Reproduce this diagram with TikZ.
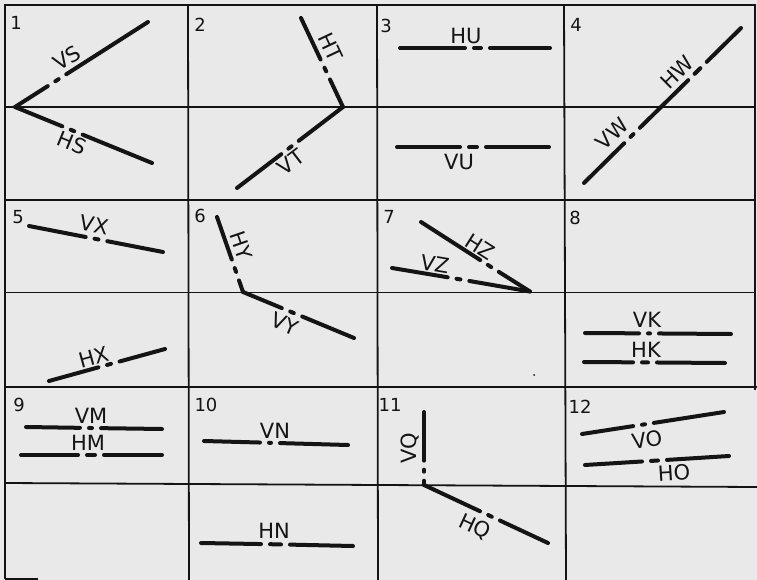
\documentclass[tikz,border=0pt]{standalone}
\usepackage{fontspec}
\setmainfont{DejaVu Sans}
\usetikzlibrary{calc}
\definecolor{bgc}{RGB}{233,233,233}
\definecolor{ink}{RGB}{20,20,20}
\tikzset{
  tline/.style={line width=4pt, line cap=round, draw=ink},
  gridline/.style={line width=1.8pt, draw=ink},
  lab/.style={inner sep=0pt, font=\fontsize{21}{21}\selectfont, text=ink},
  num/.style={inner sep=0pt, font=\fontsize{18}{18}\selectfont, text=ink},
}
% #1 half visible dash length, #2 start, #3 break centre, #4 end
\newcommand\tracebrk[4][4]{%
  \pgfmathsetmacro\tbd{#1-2}%
  \pgfmathsetmacro\tbs{#1+7}%
  \draw[tline] (#2) -- ($(#3)!\tbs pt!(#2)$);
  \draw[tline] ($(#3)!\tbd pt!(#2)$) -- ($(#3)!\tbd pt!(#4)$);
  \draw[tline] ($(#3)!\tbs pt!(#4)$) -- (#4);
}
\begin{document}
\begin{tikzpicture}[x=1pt,y=-1pt]
\fill[bgc] (0,0) rectangle (757,580);
\useasboundingbox (0,0) rectangle (757,580);

% grid
\draw[gridline] (5,579) -- (5,5) -- (755,5) -- (755,390);
\draw[gridline] (5,579) -- (38,579);
\draw[gridline] (188,5) -- (189,580);
\draw[gridline] (377,5) -- (378,580);
\draw[gridline] (564,5) -- (566,580);
\draw[gridline] (5,200) -- (755,200);
\draw[gridline] (5,387) -- (757,387);
\draw[gridline] (5,107) -- (755,107);
\draw[gridline] (5,292.5) -- (755,292.5);
\draw[gridline] (5,483) -- (757,487);

% cell 1
\node[num] (n1) at (16,22.5) {1};
\coordinate (f1) at (15,107);
\coordinate (vsE) at (148,22);  \coordinate (vsC) at (57,80.2);
\coordinate (hsE) at (152,163); \coordinate (hsC) at (72.5,130.5);
\tracebrk{f1}{vsC}{vsE}
\tracebrk{f1}{hsC}{hsE}
\node[lab,rotate=32.6] (lvs) at (67,58) {VS};
\node[lab,rotate=-22.2] (lhs) at (72,143) {HS};

% cell 2
\node[num] (n2) at (200,25) {2};
\coordinate (f2) at (343,107);
\coordinate (htE) at (301,18);  \coordinate (htC) at (325.3,69.5);
\coordinate (vtE) at (237,188); \coordinate (vtC) at (290,147.5);
\tracebrk{htE}{htC}{f2}
\tracebrk{f2}{vtC}{vtE}
\node[lab,rotate=-64.7] (lht) at (331,47) {HT};
\node[lab,rotate=37.4] (lvt) at (291,162) {VT};

% cell 3
\node[num] (n3) at (386,26) {3};
\coordinate (huA) at (400,48); \coordinate (huB) at (550,48); \coordinate (huC) at (477.5,48);
\coordinate (vuA) at (397,147); \coordinate (vuB) at (549,147); \coordinate (vuC) at (473,147);
\tracebrk[5.5]{huA}{huC}{huB}
\tracebrk[6]{vuA}{vuC}{vuB}
\node[lab] (lhu) at (466,36) {HU};
\node[lab] (lvu) at (459,162) {VU};

% cell 4
\node[num] (n4) at (576,25) {4};
\coordinate (wA) at (584,183); \coordinate (wF) at (661,107); \coordinate (wB) at (741,28);
\coordinate (hwC) at (697.5,71); \coordinate (vwC) at (632,135.5);
\tracebrk[4]{wA}{vwC}{wF}
\tracebrk[6]{wF}{hwC}{wB}
\node[lab,rotate=44.6] (lhw) at (677,72) {HW};
\node[lab,rotate=44.6] (lvw) at (612,134) {VW};

% cell 5
\node[num] (n5) at (18,217) {5};
\coordinate (vxA) at (29,226); \coordinate (vxB) at (163,252); \coordinate (vxC) at (96.5,239.1);
\coordinate (hxA) at (49,381); \coordinate (hxB) at (165,349); \coordinate (hxC) at (109,364.4);
\tracebrk{vxA}{vxC}{vxB}
\tracebrk{hxA}{hxC}{hxB}
\node[lab,rotate=-11] (lvx) at (94,225) {VX};
\node[lab,rotate=15.4] (lhx) at (94,357) {HX};

% cell 6
\node[num] (n6) at (200,216) {6};
\coordinate (f6) at (243,292);
\coordinate (hyA) at (217,217); \coordinate (hyC) at (235.4,270);
\coordinate (vyB) at (354,338); \coordinate (vyC) at (292,312.3);
\tracebrk{hyA}{hyC}{f6}
\tracebrk{f6}{vyC}{vyB}
\node[lab,rotate=-71] (lhy) at (241,246) {HY};
\node[lab,rotate=-22.5] (lvy) at (285,324) {VY};

% cell 7
\node[num] (n7) at (389,217) {7};
\coordinate (f7) at (530,291.5);
\coordinate (hzA) at (421,222); \coordinate (hzC) at (489.5,266);
\coordinate (vzA) at (392,268); \coordinate (vzC) at (458.5,279.1);
\tracebrk{hzA}{hzC}{f7}
\tracebrk{vzA}{vzC}{f7}
\node[lab,rotate=-32.3] (lhz) at (480,247) {HZ};
\node[lab,rotate=-9.5] (lvz) at (435,264) {VZ};
\fill[ink] (534,375) circle (1pt);

% cell 8
\node[num] (n8) at (575,218) {8};
\coordinate (vkA) at (585,333); \coordinate (vkB) at (731,334); \coordinate (vkC) at (649,333.4);
\coordinate (hkA) at (584,362); \coordinate (hkB) at (725,363); \coordinate (hkC) at (645,362.4);
\tracebrk[3]{vkA}{vkC}{vkB}
\tracebrk[5]{hkA}{hkC}{hkB}
\node[lab] (lvk) at (647,320) {VK};
\node[lab] (lhk) at (646,350) {HK};

% cell 9
\node[num] (n9) at (19,405) {9};
\coordinate (vmA) at (26,427); \coordinate (vmB) at (162,429); \coordinate (vmC) at (90.5,428);
\coordinate (hmA) at (21,455); \coordinate (hmB) at (162,455); \coordinate (hmC) at (91,455);
\tracebrk[3.5]{vmA}{vmC}{vmB}
\tracebrk[6]{hmA}{hmC}{hmB}
\node[lab] (lvm) at (91,416) {VM};
\node[lab] (lhm) at (88,443) {HM};

% cell 10
\node[num] (n10) at (206,405) {10};
\coordinate (vnA) at (204,441); \coordinate (vnB) at (348,445); \coordinate (vnC) at (270,442.8);
\coordinate (hnA) at (201,543); \coordinate (hnB) at (353,546); \coordinate (hnC) at (275.5,544.3);
\tracebrk[3]{vnA}{vnC}{vnB}
\tracebrk[7.5]{hnA}{hnC}{hnB}
\node[lab] (lvn) at (275,431) {VN};
\node[lab] (lhn) at (274,531) {HN};

% cell 11
\node[num] (n11) at (390,405) {11};
\coordinate (f11) at (424,485);
\coordinate (vqA) at (424,412); \coordinate (vqC) at (424,470.7);
\coordinate (hqB) at (548,543); \coordinate (hqC) at (490,515.9);
\tracebrk[3]{vqA}{vqC}{f11}
\tracebrk{f11}{hqC}{hqB}
\node[lab,rotate=90] (lvq) at (410,448) {VQ};
\node[lab,rotate=-25] (lhq) at (475,527) {HQ};

% cell 12
\node[num] (n12) at (580,407) {12};
\coordinate (voA) at (582,434); \coordinate (voB) at (724,412); \coordinate (voC) at (643.5,424.5);
\coordinate (hoA) at (585,465); \coordinate (hoB) at (729,456); \coordinate (hoC) at (654.5,460.7);
\tracebrk[3.5]{voA}{voC}{voB}
\tracebrk[5.5]{hoA}{hoC}{hoB}
\node[lab,rotate=8.8] (lvo) at (647,440) {VO};
\node[lab,rotate=3.6] (lho) at (674,473) {HO};
\end{tikzpicture}
\end{document}
